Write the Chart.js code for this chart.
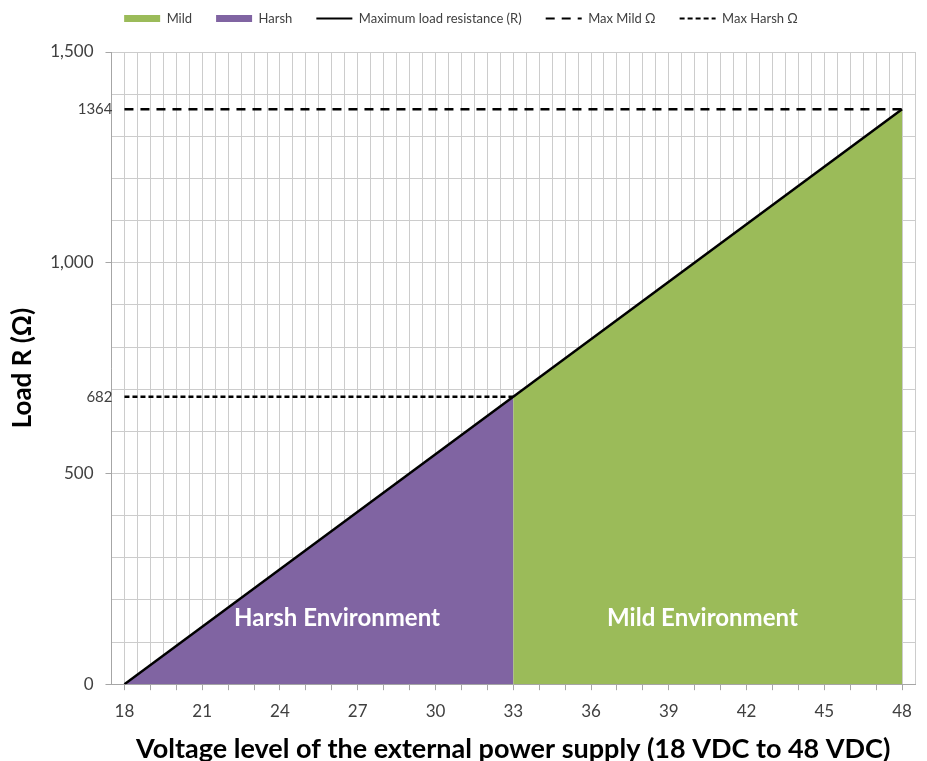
<!DOCTYPE html>
<html>
<head>
<meta charset="utf-8">
<script src="https://cdn.jsdelivr.net/npm/chart.js@4"></script>
<style>
  html, body { margin: 0; padding: 0; background: #fff; }
  #wrap { width: 927px; height: 761px; }
</style>
</head>
<body>
<div id="wrap"><canvas id="chart"></canvas></div>
<script>
// data
const lineVolts = [18, 48];
const lineLoad = [0, 1364];
const harshVolts = [18, 33];
const harshLoad = [0, 682];
const mildVolts = [33, 48];
const mildLoad = [682, 1364];
const maxMildVolts = [18, 48];
const maxMildLoad = [1364, 1364];
const maxHarshVolts = [18, 33];
const maxHarshLoad = [682, 682];

const xTickLabels = [18, 21, 24, 27, 30, 33, 36, 39, 42, 45, 48];
const yTickLabels = [0, 500, 1000, 1500];
const markLabels = [682, 1364];
const regionNames = ['Harsh Environment', 'Mild Environment'];
const regionVolts = [26.2, 40.3];
const regionLoad = [156, 156];

const FONT = 'Lato';
const GREEN = '#9bbb59';
const PURPLE = '#8064a2';

function pts(xs, ys) {
    return xs.map((v, i) => ({ x: v, y: ys[i] }));
}

// texte dans le graphique + étiquettes 682 / 1364
const extraText = {
    id: 'extraText',
    afterDatasetsDraw(chart) {
        const { ctx, scales: { x, y } } = chart;
        ctx.save();
        ctx.font = 'bold 24px ' + FONT;
        ctx.fillStyle = '#ffffff';
        ctx.textAlign = 'center';
        ctx.textBaseline = 'middle';
        regionNames.forEach((t, i) => {
            ctx.fillText(t, x.getPixelForValue(regionVolts[i]), y.getPixelForValue(regionLoad[i]));
        });
        ctx.font = '15px ' + FONT;
        ctx.fillStyle = '#404040';
        ctx.textAlign = 'right';
        markLabels.forEach(v => {
            ctx.fillText(String(v), x.left + 1, y.getPixelForValue(v));
        });
        ctx.restore();
    }
};

// more room under the legend
const legendGap = {
    id: 'legendGap',
    beforeInit(chart) {
        const fit = chart.legend.fit;
        chart.legend.fit = function () {
            fit.bind(chart.legend)();
            this.height += 17;
        };
    }
};

const ctx = document.getElementById('chart').getContext('2d');
new Chart(ctx, {
    type: 'line',
    data: {
        datasets: [
            {
                label: 'Mild',
                data: pts(mildVolts, mildLoad),
                backgroundColor: GREEN,
                borderWidth: 0,
                fill: 'origin',
                pointRadius: 0,
                order: 3
            },
            {
                label: 'Harsh',
                data: pts(harshVolts, harshLoad),
                backgroundColor: PURPLE,
                borderWidth: 0,
                fill: 'origin',
                pointRadius: 0,
                order: 3
            },
            {
                label: 'Maximum load resistance (R)',
                data: pts(lineVolts, lineLoad),
                borderColor: '#000000',
                borderWidth: 2.5,
                fill: false,
                pointRadius: 0,
                order: 1
            },
            {
                label: 'Max Mild Ω',
                data: pts(maxMildVolts, maxMildLoad),
                borderColor: '#000000',
                borderWidth: 2.5,
                borderDash: [9, 7],
                fill: false,
                pointRadius: 0,
                order: 2
            },
            {
                label: 'Max Harsh Ω',
                data: pts(maxHarshVolts, maxHarshLoad),
                borderColor: '#000000',
                borderWidth: 2.5,
                borderDash: [5, 3],
                fill: false,
                pointRadius: 0,
                order: 2
            }
        ]
    },
    options: {
        responsive: true,
        maintainAspectRatio: false,
        animation: false,
        layout: { padding: { top: -12, right: 12, left: 7, bottom: -4 } },
        plugins: {
            tooltip: { enabled: false },
            legend: {
                position: 'top',
                labels: {
                    usePointStyle: true,
                    pointStyleWidth: 36,
                    boxHeight: 7,
                    padding: 24,
                    color: '#404040',
                    font: { family: FONT, size: 13 },
                    generateLabels(chart) {
                        return chart.data.datasets.map((ds, i) => {
                            const isFill = ds.fill === 'origin';
                            return {
                                text: ds.label,
                                datasetIndex: i,
                                fillStyle: isFill ? ds.backgroundColor : 'transparent',
                                strokeStyle: isFill ? ds.backgroundColor : '#000000',
                                lineWidth: isFill ? 0 : 2,
                                lineDash: ds.borderDash || [],
                                pointStyle: isFill ? 'rect' : 'line',
                                fontColor: '#404040'
                            };
                        });
                    }
                }
            }
        },
        scales: {
            x: {
                type: 'linear',
                min: 17.5,
                max: 48.5,
                afterBuildTicks(scale) {
                    const t = [];
                    for (let v = 17.5; v <= 48.5; v += 0.5) t.push({ value: v });
                    scale.ticks = t;
                },
                ticks: {
                    autoSkip: false,
                    maxRotation: 0,
                    color: '#404040',
                    font: { family: FONT, size: 17 },
                    padding: 11,
                    callback: v => xTickLabels.includes(v) ? String(v) : ''
                },
                grid: {
                    color: '#cccccc',
                    tickLength: 6,
                    tickColor: c => Number.isInteger(c.tick.value) ? '#a6a6a6' : 'transparent'
                },
                border: { color: '#a6a6a6' },
                title: {
                    display: true,
                    text: 'Voltage level of the external power supply (18 VDC to 48 VDC)',
                    color: '#000000',
                    font: { family: FONT, size: 27, weight: 'bold' },
                    padding: { top: 0, bottom: 0 }
                }
            },
            y: {
                min: 0,
                max: 1500,
                afterBuildTicks(scale) {
                    const t = [];
                    for (let v = 0; v <= 1500; v += 100) t.push({ value: v });
                    scale.ticks = t;
                },
                ticks: {
                    autoSkip: false,
                    color: '#404040',
                    font: { family: FONT, size: 17 },
                    padding: 12,
                    callback: v => yTickLabels.includes(v) ? v.toLocaleString('en-US') : ''
                },
                grid: {
                    color: '#cccccc',
                    tickLength: 6,
                    tickColor: c => yTickLabels.includes(c.tick.value) ? '#a6a6a6' : 'transparent'
                },
                border: { color: '#a6a6a6' },
                title: {
                    display: true,
                    text: 'Load R (Ω)',
                    color: '#000000',
                    font: { family: FONT, size: 26, weight: 'bold' },
                    padding: { top: 0, bottom: 0 }
                }
            }
        }
    },
    plugins: [extraText, legendGap]
});
</script>
</body>
</html>
